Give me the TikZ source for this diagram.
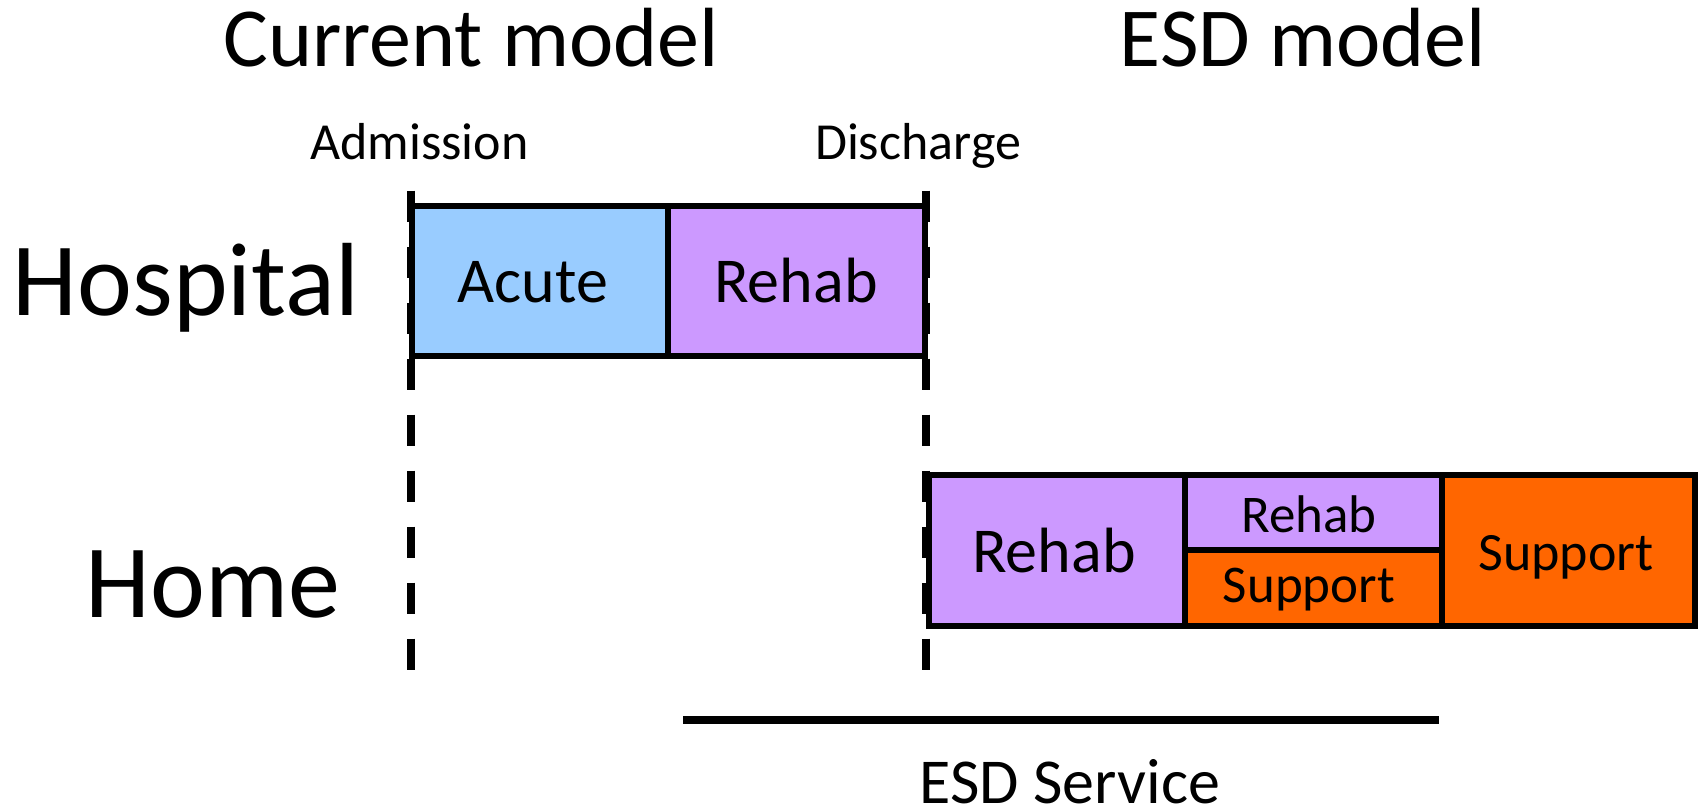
\documentclass[tikz,border=0pt]{standalone}
\usepackage{fontspec}
\setmainfont{Carlito}
\definecolor{acuteblue}{HTML}{99CCFF}
\definecolor{rehabpurple}{HTML}{CC99FF}
\definecolor{supportorange}{HTML}{FF6600}
\begin{document}
\begin{tikzpicture}[x=1pt,y=-1pt,
  cell/.style={draw=black, line width=6pt, inner sep=0pt, outer sep=0pt},
  lbl/.style={anchor=base, inner sep=0pt, text=black},
  title/.style={lbl, font=\fontsize{84}{100}\selectfont},
  rowlbl/.style={lbl, font=\fontsize{104}{120}\selectfont},
  boxlbl/.style={lbl, font=\fontsize{64}{76}\selectfont},
  smalllbl/.style={lbl, font=\fontsize{53}{64}\selectfont},
  eventlbl/.style={lbl, font=\fontsize{52}{62}\selectfont},
  sepline/.style={line width=8pt, dash pattern=on 31pt off 25pt},
  barline/.style={line width=8pt},
]
\useasboundingbox (0,0) rectangle (1704,810);

% titles
\node[title] (tcur) at (471,67) {Current model};
\node[title] (tesd) at (1303,67) {ESD model};
\node[eventlbl] (tadm) at (419.5,159.5) {Admission};
\node[eventlbl] (tdis) at (918,159.5) {Discharge};
\node[rowlbl] (thosp) at (186,315) {Hospital};
\node[rowlbl] (thome) at (213,617) {Home};

% hospital row
\node[cell, fill=acuteblue, minimum width=256pt, minimum height=150pt] (acute) at (540,281) {};
\node[cell, fill=rehabpurple, minimum width=257pt, minimum height=150pt] (hrehab) at (796.5,281) {};

% home row
\node[cell, fill=rehabpurple, minimum width=256pt, minimum height=151.5pt] (homerehab) at (1056.5,550.25) {};
\node[cell, fill=rehabpurple, minimum width=257.5pt, minimum height=75.5pt] (midrehab) at (1313.25,512.25) {};
\node[cell, fill=supportorange, minimum width=257.5pt, minimum height=76pt] (midsupport) at (1313.25,588) {};
\node[cell, fill=supportorange, minimum width=253pt, minimum height=151.5pt] (homesupport) at (1568.5,550.25) {};

% dashed markers
\coordinate (admtop) at (411,190.7);
\coordinate (admbot) at (411,670);
\coordinate (distop) at (925.5,190.7);
\coordinate (disbot) at (925.5,670);
\draw[sepline] (admtop) -- (admbot);
\draw[sepline] (distop) -- (disbot);

% box labels
\node[boxlbl] (lacute) at (533,302) {Acute};
\node[boxlbl] (lhrehab) at (796,302) {Rehab};
\node[boxlbl] (lhomerehab) at (1054,572) {Rehab};
\node[smalllbl] (lmidrehab) at (1309,532) {Rehab};
\node[smalllbl] (lmidsupport) at (1309,602) {Support};
\node[boxlbl, font=\fontsize{54}{64}\selectfont] (lhomesupport) at (1566,570) {Support};

% ESD service bar
\coordinate (esdL) at (683,720);
\coordinate (esdR) at (1439,720);
\draw[barline] (esdL) -- (esdR);
\node[boxlbl] (lesd) at (1070,803.5) {ESD Service};
\end{tikzpicture}
\end{document}
